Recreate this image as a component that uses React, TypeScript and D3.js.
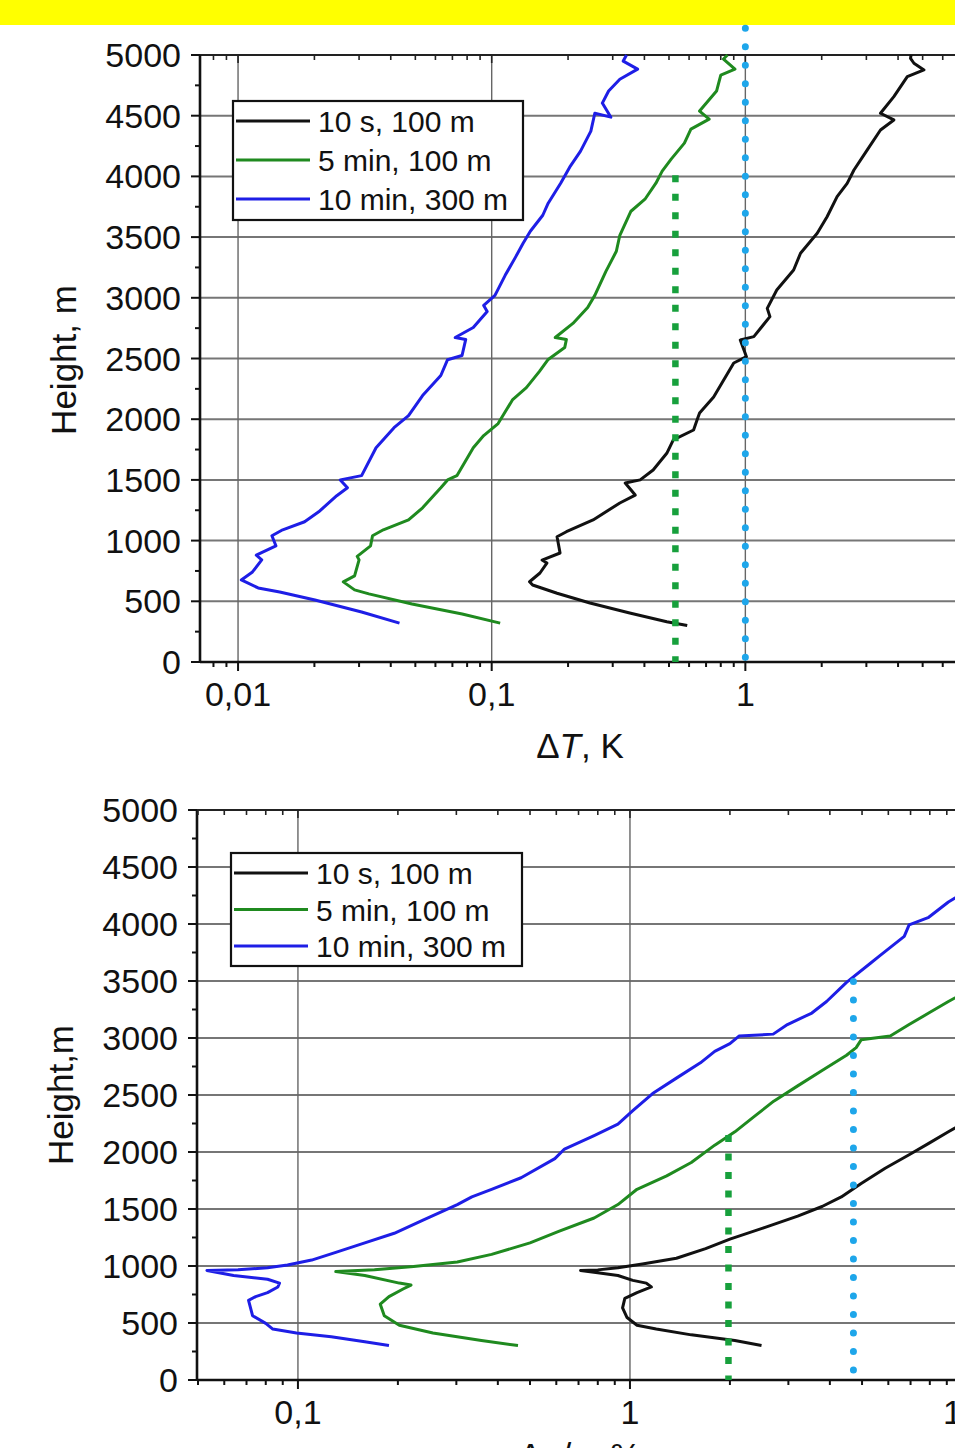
import React from "react";
import * as d3 from "d3";

// series labels / colours
const seriesNames = ["10 s, 100 m", "5 min, 100 m", "10 min, 300 m"];
const seriesColors = ["#111111", "#1f8a1f", "#1e1ee6"];

// height axis (both panels)
const heightTicks = [0, 500, 1000, 1500, 2000, 2500, 3000, 3500, 4000, 4500, 5000];

// top panel: dT, K  -> [value, height]
const topTicks = [0.01, 0.1, 1];
const topTickLabels = ["0,01", "0,1", "1"];
const topBlack = [
  [0.59, 300], [0.49, 332], [0.35, 403], [0.244, 486], [0.181, 566], [0.145, 634], [0.141, 661],
  [0.155, 733], [0.165, 815], [0.158, 840], [0.186, 898], [0.181, 1032], [0.197, 1073], [0.251, 1170],
  [0.32, 1310], [0.368, 1375], [0.336, 1474], [0.385, 1500], [0.433, 1582], [0.49, 1719], [0.52, 1829],
  [0.625, 1911], [0.645, 1993], [0.66, 2051], [0.75, 2183], [0.9, 2463], [1.01, 2515], [0.955, 2652],
  [1.08, 2680], [1.25, 2845], [1.22, 2913], [1.33, 3064], [1.55, 3229], [1.65, 3367], [1.92, 3531],
  [2.1, 3668], [2.3, 3833], [2.52, 3943], [2.68, 4053], [3.02, 4217], [3.41, 4382], [3.85, 4465],
  [3.41, 4520], [3.85, 4657], [4.35, 4822], [5.06, 4877], [4.62, 4932], [4.48, 4972], [4.5, 5000],
];
const topGreen = [
  [0.108, 320], [0.0765, 396], [0.0485, 478], [0.0328, 561], [0.0288, 594], [0.026, 660], [0.0288, 710],
  [0.03, 841], [0.0295, 870], [0.0333, 957], [0.0339, 1040], [0.0374, 1089], [0.047, 1171], [0.0534, 1270],
  [0.063, 1435], [0.067, 1500], [0.0729, 1535], [0.0846, 1765], [0.093, 1865], [0.106, 1964], [0.121, 2162],
  [0.137, 2260], [0.154, 2392], [0.167, 2492], [0.194, 2590], [0.197, 2657], [0.178, 2673], [0.209, 2789],
  [0.239, 2920], [0.255, 3020], [0.282, 3218], [0.31, 3383], [0.32, 3515], [0.354, 3713], [0.402, 3812],
  [0.444, 3944], [0.47, 4043], [0.51, 4142], [0.575, 4274], [0.61, 4389], [0.72, 4472], [0.66, 4538],
  [0.77, 4703], [0.8, 4835], [0.91, 4884], [0.82, 4967], [0.85, 5000],
];
const topBlue = [
  [0.0433, 320], [0.0307, 412], [0.0201, 511], [0.0146, 577], [0.012, 610], [0.0103, 676], [0.0114, 742],
  [0.0124, 841], [0.0118, 880], [0.0141, 957], [0.0136, 1040], [0.015, 1089], [0.0183, 1155], [0.0208, 1237],
  [0.0245, 1370], [0.027, 1435], [0.0253, 1500], [0.0307, 1535], [0.035, 1765], [0.0412, 1930], [0.047, 2030],
  [0.0534, 2195], [0.063, 2360], [0.067, 2490], [0.0764, 2525], [0.079, 2657], [0.0718, 2673], [0.0846, 2755],
  [0.096, 2888], [0.093, 2937], [0.103, 3020], [0.113, 3185], [0.124, 3333], [0.133, 3449], [0.142, 3548],
  [0.159, 3680], [0.167, 3779], [0.187, 3944], [0.203, 4076], [0.224, 4208], [0.246, 4373], [0.255, 4520],
  [0.295, 4488], [0.273, 4604], [0.289, 4703], [0.32, 4800], [0.376, 4884], [0.33, 4950], [0.34, 5000],
];
// dotted limits: [value, top height]
const topDotted = [
  [0.53, 4010],
  [1.0, 5220],
];

// bottom panel: dq/q, %
const bottomTicks = [0.1, 1, 10];
const bottomTickLabels = ["0,1", "1", "10"];
const bottomBlack = [
  [2.49, 302], [2.07, 346], [1.53, 396], [1.2, 447], [1.05, 480], [0.98, 548], [0.95, 632], [0.965, 716],
  [1.05, 766], [1.16, 816], [1.12, 850], [1.02, 874], [0.92, 917], [0.8, 941], [0.71, 961], [0.8, 966],
  [0.92, 984], [1.09, 1018], [1.38, 1068], [1.69, 1152], [2.0, 1236], [2.54, 1337], [3.2, 1438],
  [3.79, 1522], [4.33, 1606], [4.97, 1724], [5.87, 1858], [6.93, 1976], [7.94, 2076], [9.1, 2177],
  [10.5, 2280], [12, 2400],
];
const bottomGreen = [
  [0.46, 302], [0.357, 346], [0.255, 413], [0.202, 480], [0.182, 564], [0.177, 665], [0.188, 732],
  [0.208, 800], [0.219, 833], [0.202, 850], [0.159, 917], [0.13, 951], [0.17, 968], [0.223, 995],
  [0.302, 1035], [0.383, 1102], [0.5, 1203], [0.61, 1304], [0.78, 1421], [0.92, 1539], [1.05, 1673],
  [1.29, 1791], [1.53, 1908], [1.8, 2060], [2.07, 2177], [2.37, 2312], [2.71, 2446], [3.2, 2580],
  [3.79, 2715], [4.49, 2849], [4.8, 2916], [4.97, 2984], [6.08, 3017], [6.93, 3118], [7.94, 3219],
  [9.1, 3320], [10.5, 3420], [12, 3520],
];
const bottomBlue = [
  [0.188, 302], [0.159, 336], [0.126, 380], [0.099, 413], [0.084, 447], [0.08, 497], [0.073, 564],
  [0.071, 699], [0.0746, 732], [0.081, 766], [0.087, 816], [0.088, 850], [0.081, 884], [0.064, 917],
  [0.0532, 961], [0.066, 968], [0.081, 984], [0.093, 1008], [0.11, 1052], [0.13, 1119], [0.159, 1203],
  [0.195, 1287], [0.239, 1404], [0.302, 1539], [0.334, 1606], [0.383, 1673], [0.47, 1774], [0.594, 1942],
  [0.635, 2026], [0.78, 2144], [0.92, 2244], [1.02, 2362], [1.17, 2513], [1.38, 2648], [1.63, 2782],
  [1.8, 2883], [2.0, 2950], [2.13, 3017], [2.7, 3034], [2.98, 3118], [3.53, 3219], [3.91, 3320],
  [4.49, 3488], [5.3, 3656], [5.66, 3723], [6.7, 3891], [6.93, 3992], [7.94, 4059], [9.1, 4193],
  [10.5, 4300], [12, 4420],
];
const bottomDotted = [
  [1.98, 2150],
  [4.71, 3495],
];

const dotColors = ["#17a03c", "#1ea6ea"];
const FONT = "'Liberation Sans', Arial, sans-serif";

const Panel = ({ xDomain, xRange, yRange, ticks, tickLabels, series, dotted, legend, yTitle, labelY }) => {
  const x = d3.scaleLog().domain(xDomain).range(xRange);
  const y = d3.scaleLinear().domain([0, 5000]).range(yRange);
  const line = d3.line().x((d) => x(d[0])).y((d) => y(d[1]));
  const left = xRange[0];
  const [bottom, top] = yRange;
  const minor = x.ticks().filter((t) => ticks.indexOf(t) < 0);
  const minorY = d3.range(250, 5000, 500);

  return (
    <g fontFamily={FONT}>
      {/* grid */}
      {heightTicks.slice(1, -1).map((h) => (
        <line key={"gh" + h} x1={left} x2={xRange[1]} y1={y(h)} y2={y(h)} stroke="#767676" strokeWidth={2} />
      ))}
      {ticks.map((t) => (
        <line key={"gv" + t} x1={x(t)} x2={x(t)} y1={top} y2={bottom} stroke="#666" strokeWidth={1.4} />
      ))}

      {/* frame */}
      <line x1={left} x2={xRange[1]} y1={top} y2={top} stroke="#222" strokeWidth={2.2} />
      <line x1={left} x2={xRange[1]} y1={bottom} y2={bottom} stroke="#111" strokeWidth={2.6} />
      <line x1={left} x2={left} y1={top} y2={bottom} stroke="#111" strokeWidth={2.6} />

      {/* x ticks */}
      {ticks.map((t) => (
        <g key={"xt" + t}>
          <line x1={x(t)} x2={x(t)} y1={bottom} y2={bottom + 9} stroke="#111" strokeWidth={2} />
          <line x1={x(t)} x2={x(t)} y1={top} y2={top + 8} stroke="#222" strokeWidth={1.6} />
        </g>
      ))}
      {minor.map((t) => (
        <g key={"xm" + t}>
          <line x1={x(t)} x2={x(t)} y1={bottom} y2={bottom + 5} stroke="#111" strokeWidth={2} />
          <line x1={x(t)} x2={x(t)} y1={top} y2={top + 5} stroke="#222" strokeWidth={1.6} />
        </g>
      ))}
      {ticks.map((t, i) => (
        <text key={"xl" + t} x={x(t)} y={bottom + 44} fontSize={34} textAnchor="middle" fill="#111">
          {tickLabels[i]}
        </text>
      ))}

      {/* y ticks */}
      {heightTicks.map((h) => (
        <g key={"yt" + h}>
          <line x1={left - 9} x2={left} y1={y(h)} y2={y(h)} stroke="#111" strokeWidth={2} />
          <text x={left - 19} y={y(h) + 12} fontSize={34} textAnchor="end" fill="#111">
            {h}
          </text>
        </g>
      ))}
      {minorY.map((h) => (
        <line key={"ym" + h} x1={left - 5} x2={left} y1={y(h)} y2={y(h)} stroke="#111" strokeWidth={2} />
      ))}
      <text
        transform={`translate(${left - 124},${labelY}) rotate(-90)`}
        fontSize={35}
        textAnchor="middle"
        fill="#111"
      >
        {yTitle}
      </text>

      {/* curves */}
      {series.map((s, i) => (
        <path key={"s" + i} d={line(s)} fill="none" stroke={seriesColors[i]} strokeWidth={3} strokeLinejoin="round" />
      ))}

      {/* dotted limits */}
      <line
        x1={x(dotted[0][0])} x2={x(dotted[0][0])} y1={y(dotted[0][1])} y2={bottom}
        stroke={dotColors[0]} strokeWidth={6.5} strokeDasharray="7 11.5"
      />
      <line
        x1={x(dotted[1][0])} x2={x(dotted[1][0])} y1={y(dotted[1][1])} y2={bottom}
        stroke={dotColors[1]} strokeWidth={7} strokeDasharray="0 18.5" strokeLinecap="round"
      />

      {/* legend */}
      <rect x={legend.x} y={legend.y} width={legend.w} height={legend.h} fill="white" stroke="#111" strokeWidth={2.2} />
      {seriesNames.map((n, i) => (
        <g key={"lg" + i}>
          <line
            x1={legend.x + 3} x2={legend.x + 77}
            y1={legend.y + 20 + i * legend.step} y2={legend.y + 20 + i * legend.step}
            stroke={seriesColors[i]} strokeWidth={3}
          />
          <text x={legend.x + 85} y={legend.y + 31 + i * legend.step} fontSize={30} fill="#111">
            {n}
          </text>
        </g>
      ))}
    </g>
  );
};

const App = () => {
  const W = 955;
  const H = 1448;
  return (
    <svg width={W} height={H} style={{ position: "absolute", left: 0, top: 0, background: "white" }}>
      <rect x={0} y={0} width={W} height={25} fill="#ffff00" />

      <Panel
        xDomain={[Math.pow(10, -2.15), 10]}
        xRange={[200, 999]}
        yRange={[662, 55]}
        ticks={topTicks}
        tickLabels={topTickLabels}
        series={[topBlack, topGreen, topBlue]}
        dotted={topDotted}
        legend={{ x: 233, y: 101, w: 290, h: 119, step: 39 }}
        yTitle="Height, m"
        labelY={360}
      />
      <text x={580} y={758} fontSize={35} textAnchor="middle" fontFamily={FONT} fill="#111">
        Δ<tspan fontStyle="italic">T</tspan>, K
      </text>

      <Panel
        xDomain={[Math.pow(10, -1.304), Math.pow(10, 1.3)]}
        xRange={[197, 1061.6]}
        yRange={[1380, 810]}
        ticks={bottomTicks}
        tickLabels={bottomTickLabels}
        series={[bottomBlack, bottomGreen, bottomBlue]}
        dotted={bottomDotted}
        legend={{ x: 231, y: 853, w: 291, h: 113, step: 36.5 }}
        yTitle="Height,m"
        labelY={1095}
      />
      <text x={580} y={1468} fontSize={35} textAnchor="middle" fontFamily={FONT} fill="#111">
        Δ<tspan fontStyle="italic">q</tspan>/<tspan fontStyle="italic">q</tspan>, %
      </text>
    </svg>
  );
};

export default App;
